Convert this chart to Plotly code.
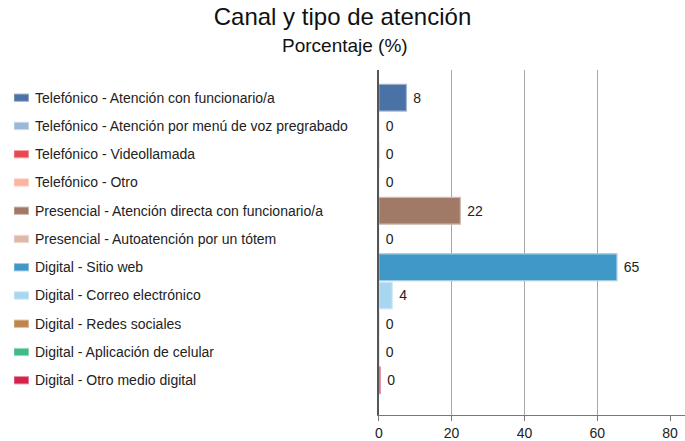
import plotly.graph_objects as go

categories = [
    "Telefónico - Atención con funcionario/a",
    "Telefónico - Atención por menú de voz pregrabado",
    "Telefónico - Videollamada",
    "Telefónico - Otro",
    "Presencial - Atención directa con funcionario/a",
    "Presencial - Autoatención por un tótem",
    "Digital - Sitio web",
    "Digital - Correo electrónico",
    "Digital - Redes sociales",
    "Digital - Aplicación de celular",
    "Digital - Otro medio digital",
]
values = [7.6, 0, 0, 0, 22.4, 0, 65.4, 3.7, 0, 0, 0.4]
colors = ["#4a72a6", "#9ab8dc", "#e8474f", "#fbb4a0", "#a07a66", "#ddb9aa",
          "#3f98c8", "#a6d6f0", "#c0854a", "#41bb85", "#d4234a"]
tick_values = [0, 20, 40, 60, 80]
grid_values = [20, 40, 60]
swatch_values = [1] * len(categories)


def lighten(hex_color, f=0.5):
    h = hex_color.lstrip("#")
    r, g, b = (int(h[i:i + 2], 16) for i in (0, 2, 4))
    r, g, b = (int(c + (255 - c) * f) for c in (r, g, b))
    return f"rgb({r},{g},{b})"


outline = [lighten(c) for c in colors]
FONT = "Liberation Sans, Arial, sans-serif"
W, H = 685, 441

fig = go.Figure()

# empty trace on the grid-only overlay axis
fig.add_trace(go.Scatter(x=[], y=[], xaxis="x3", yaxis="y", showlegend=False, hoverinfo="skip"))

fig.add_trace(go.Bar(
    x=values, y=categories, orientation="h",
    marker=dict(color=colors, line=dict(color=outline, width=1.2)),
    width=0.95,
    texttemplate="\u00a0%{x:.0f}", textposition="outside",
    textfont=dict(family=FONT, size=14, color="#222"),
    cliponaxis=False, showlegend=False,
))

fig.add_trace(go.Bar(
    x=swatch_values, y=categories, orientation="h",
    xaxis="x2", yaxis="y",
    marker=dict(color=colors, line=dict(color=outline, width=1)),
    width=0.26, showlegend=False, hoverinfo="skip",
))

for cat in categories:
    fig.add_annotation(
        x=29 / W, xref="paper", y=cat, yref="y",
        text=cat, showarrow=False, xanchor="left", yanchor="middle",
        font=dict(family=FONT, size=14, color="#222"),
    )

x_range = [0, 84.1]
fig.update_layout(
    width=W, height=H,
    margin=dict(l=0, r=0, t=70, b=23),
    paper_bgcolor="white", plot_bgcolor="white",
    font=dict(family=FONT, color="#222"),
    title=dict(text="Canal y tipo de atención", x=0.5, xanchor="center",
               y=1 - 17 / H, yanchor="middle", yref="container",
               font=dict(family=FONT, size=24, color="#111")),
    xaxis=dict(domain=[377 / W, 1], range=x_range, tickvals=tick_values,
               showgrid=False, zeroline=False, showline=True, linecolor="#777",
               linewidth=1, ticks="outside", ticklen=5, tickcolor="#777",
               tickfont=dict(family=FONT, size=14, color="#222"), layer="above traces"),
    xaxis3=dict(overlaying="x", range=x_range, tickvals=grid_values, showgrid=True,
                gridcolor="#a8a8a8", gridwidth=1, showticklabels=False, ticks="",
                zeroline=False, showline=False, anchor="y", layer="below traces"),
    xaxis2=dict(domain=[10 / W, 25 / W], range=[0, 1], visible=False, anchor="y"),
    yaxis=dict(range=[11.23, -0.98], showticklabels=False, ticks="", showgrid=False,
               zeroline=False, showline=True, linecolor="#555", linewidth=2),
    bargap=0.05,
)

fig.add_annotation(
    text="Porcentaje (%)", x=0.5, xref="paper", xanchor="center",
    y=(418 - 45) / 348, yref="paper", yanchor="middle", showarrow=False,
    font=dict(family=FONT, size=19, color="#111"),
)

fig.write_html("out.html", config={"displayModeBar": False},
               post_script="document.body.style.margin='0';")
